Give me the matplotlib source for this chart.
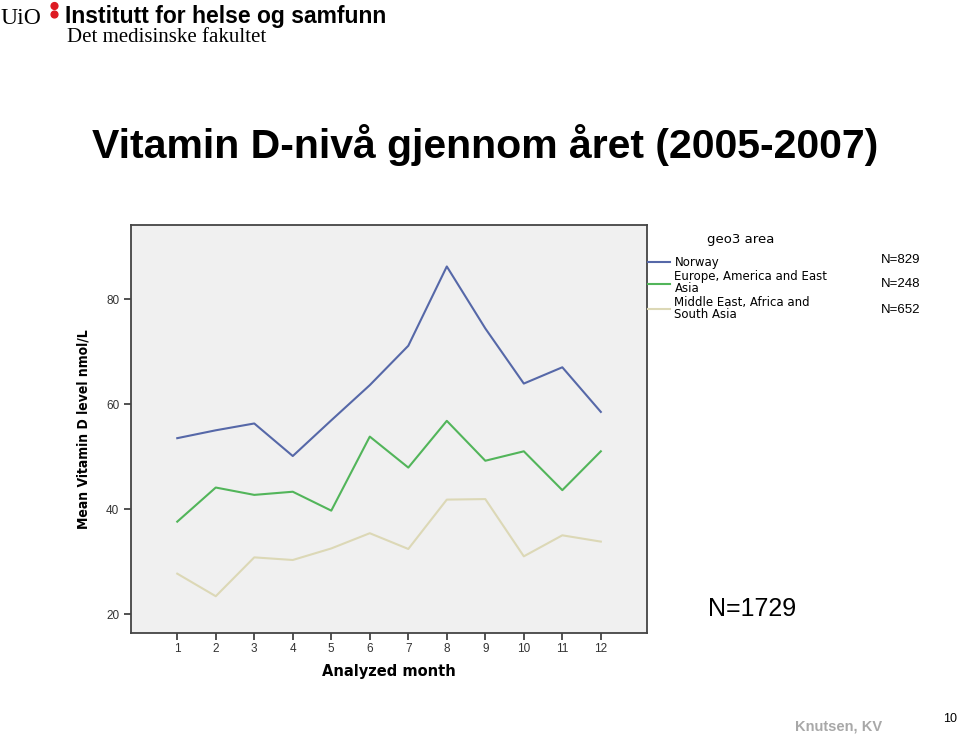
"""Vitamin D level by analyzed month and geo area (slide recreation)."""

import matplotlib

matplotlib.use("Agg")
import matplotlib.pyplot as plt
from matplotlib.lines import Line2D
from matplotlib.patches import Ellipse

months = list(range(1, 13))
norway = [53.5, 55.0, 56.3, 50.1, 56.9, 63.6, 71.1, 86.2, 74.4, 63.9, 67.0, 58.5]
europe = [37.6, 44.1, 42.7, 43.3, 39.7, 53.8, 47.9, 56.8, 49.2, 51.0, 43.6, 51.0]
mideast = [27.7, 23.4, 30.8, 30.3, 32.5, 35.4, 32.4, 41.8, 41.9, 31.0, 35.0, 33.8]

series = ["Norway", "Europe, America and East\nAsia", "Middle East, Africa and\nSouth Asia"]
counts = ["N=829", "N=248", "N=652"]
colors = ["#5668a8", "#52b55a", "#dcd8b6"]

plt.rcParams["font.family"] = ["Liberation Sans", "DejaVu Sans"]

W, H = 960, 735
fig = plt.figure(figsize=(W / 100, H / 100), dpi=100)

# header / logo
fig.text(0.0, 0.989, "UiO", family="Liberation Serif", fontsize=17, va="top")
for cy in (6.0, 14.5):
    fig.add_artist(Ellipse((54.5 / W, 1 - cy / H), 6.8 / W, 6.8 / H,
                           transform=fig.transFigure, color="#dd1a22"))
fig.text(0.068, 0.993, "Institutt for helse og samfunn", fontsize=16.5,
         weight="bold", va="top")
fig.text(0.070, 0.962, "Det medisinske fakultet", family="Liberation Serif",
         fontsize=15, va="top")

fig.text(0.505, 0.803, "Vitamin D-nivå gjennom året (2005-2007)", fontsize=29.5,
         weight="bold", ha="center", va="center")

ax = fig.add_axes([0.1365, 0.1388, 0.5375, 0.5551])
ax.set_facecolor("#f0f0f0")
for s, vals, c in zip(series, [norway, europe, mideast], colors):
    ax.plot(months, vals, color=c, linewidth=1.5)

ax.set_xlim(-0.2, 13.2)
ax.set_ylim(16.4, 94.1)
ax.set_xticks(months)
ax.set_yticks([20, 40, 60, 80])
ax.tick_params(labelsize=8.5, labelcolor="#333333", color="#333333",
               length=5, width=1.2)
ax.tick_params(axis="x", pad=2)
for sp in ax.spines.values():
    sp.set_color("#444444")
    sp.set_linewidth(1.3)
ax.set_ylabel("Mean Vitamin D level nmol/L", family="DejaVu Sans",
              fontstretch="condensed", weight="bold", fontsize=10)
ax.yaxis.set_label_coords(-0.079, 0.5)
ax.set_xlabel("Analyzed month", family="DejaVu Sans", weight="bold", fontsize=10.5)
ax.xaxis.set_label_coords(0.5, -0.076)

# legend, drawn as in the SPSS output
fig.text(741 / W, 1 - 240 / H, "geo3 area", family="DejaVu Sans", fontsize=9.5,
         ha="center", va="center")
handles = [Line2D([], [], color=c, linewidth=1.5) for c in colors]
leg = fig.legend(handles, series, loc="upper left",
                 bbox_to_anchor=(0.675, 1 - 256 / H), frameon=False,
                 prop={"family": "DejaVu Sans", "size": 8.5},
                 handlelength=1.9, handletextpad=0.34, labelspacing=0.12,
                 borderpad=0, borderaxespad=0)
for t in leg.get_texts():
    t.set_linespacing(0.85)

for lab, y in zip(counts, [260, 284, 310]):
    fig.text(0.938, 1 - y / H, lab, fontsize=9.5, ha="center", va="center")

fig.text(0.783, 0.171, "N=1729", fontsize=18, ha="center", va="center")
fig.text(0.874, 0.012, "Knutsen, KV", fontsize=10.5, weight="bold",
         color="#a8a8a8", ha="center", va="center")
fig.text(0.99, 0.022, "10", fontsize=9, ha="center", va="center")

fig.savefig("out.png", dpi=100)
